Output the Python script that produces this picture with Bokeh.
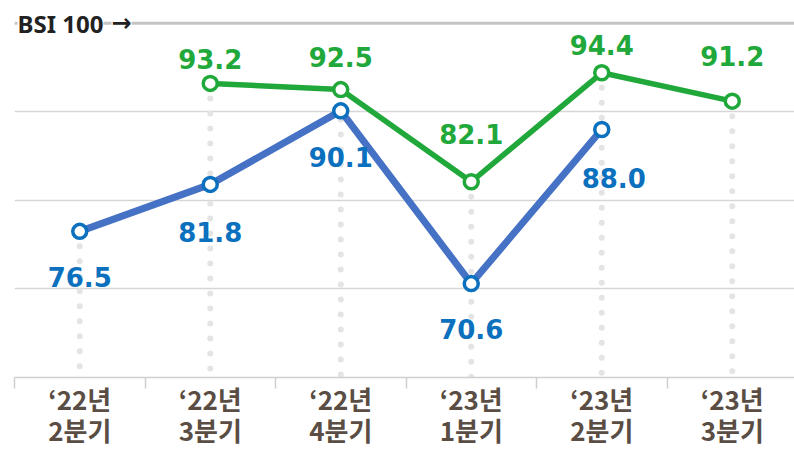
from bokeh.plotting import figure
from bokeh.models import Range1d, FixedTicker, Span, Label
from bokeh.core.properties import value
from bokeh.embed import file_html
from bokeh.resources import INLINE

# ---- data ----
years = ["\u201822년", "\u201822년", "\u201822년", "\u201823년", "\u201823년", "\u201823년"]
quarters = ["2분기", "3분기", "4분기", "1분기", "2분기", "3분기"]
green_idx = [1, 2, 3, 4, 5]
green_vals = [93.2, 92.5, 82.1, 94.4, 91.2]
blue_idx = [0, 1, 2, 3, 4]
blue_vals = [76.5, 81.8, 90.1, 70.6, 88.0]
grid_vals = [70, 80, 90]
ref_val = 100
base_val = 60

# ---- label layout (pixel offsets) ----
green_dy = [-24, -33, -48, -28, -45]
blue_dy = [46, 48, 46, 45, 49]
blue_dx = [0, 0, 0, 0, 12]

GREEN = "#21a83a"
BLUE_LINE = "#4672c6"
BLUE = "#0b70bd"

n = len(years)
p = figure(width=794, height=450, output_backend="svg", toolbar_location=None,
           x_range=Range1d(0, 780 / 130.5), y_range=Range1d(base_val, 102.56),
           min_border_left=14, min_border_right=0, min_border_top=0, min_border_bottom=0)
p.outline_line_color = None
p.background_fill_color = "white"
p.border_fill_color = "white"
p.xgrid.grid_line_color = None
p.yaxis.visible = False
p.ygrid.ticker = FixedTicker(ticks=grid_vals)
p.ygrid.grid_line_color = "#d6d6d6"
p.ygrid.grid_line_width = 1.5

# reference line 100
p.add_layout(Span(location=ref_val, dimension="width", line_color="#c4c4c4", line_width=3))
p.add_layout(Label(x=0, y=ref_val, text="BSI 100", text_font="Noto Sans", text_font_style="bold",
                   text_font_size="24px", text_color="#222222", text_baseline="middle",
                   background_fill_color="white", x_offset=3))
p.add_layout(Label(x=0, y=ref_val, text="\u2192", text_font="DejaVu Sans", text_font_style="bold",
                   text_font_size="24px", text_color="#222222", text_baseline="middle",
                   background_fill_color="white", x_offset=97))

# dotted vertical guides
xs = [i + 0.5 for i in range(n)]
tops = []
for i in range(n):
    vals = [v for j, v in zip(green_idx, green_vals) if j == i] + [v for j, v in zip(blue_idx, blue_vals) if j == i]
    tops.append(max(vals))
p.segment(x0=xs, y0=tops, x1=xs, y1=[base_val] * n, line_color="#e4e4e4", line_width=6,
          line_dash="0 15", line_cap="round")

# lines
gx = [i + 0.5 for i in green_idx]
bx = [i + 0.5 for i in blue_idx]
p.line(bx, blue_vals, line_color=BLUE_LINE, line_width=7, line_join="round")
p.line(gx, green_vals, line_color=GREEN, line_width=5.5, line_join="round")
p.scatter(bx, blue_vals, size=14, fill_color="white", line_color=BLUE, line_width=3.5)
p.scatter(gx, green_vals, size=14, fill_color="white", line_color=GREEN, line_width=3.5)

# value labels
p.text(x=gx, y=green_vals, text=[f"{v:.1f}" for v in green_vals], y_offset=green_dy,
       text_align="center", text_baseline="middle", text_font=value("DejaVu Sans"),
       text_font_style="bold", text_font_size="26px", text_color=GREEN)
p.text(x=bx, y=blue_vals, text=[f"{v:.1f}" for v in blue_vals], y_offset=blue_dy, x_offset=blue_dx,
       text_align="center", text_baseline="middle", text_font=value("DejaVu Sans"),
       text_font_style="bold", text_font_size="26px", text_color=BLUE)

# x axis: labels at band centres, minor ticks at band edges
ax = p.xaxis[0]
ax.ticker = FixedTicker(ticks=xs, minor_ticks=list(range(n + 1)))
ax.major_label_overrides = {x: f"{y}\n{q}" for x, y, q in zip(xs, years, quarters)}
ax.axis_line_color = "#cfcfcf"
ax.axis_line_width = 1.5
ax.major_tick_line_color = None
ax.major_tick_out = 0
ax.major_tick_in = 0
ax.minor_tick_line_color = "#cfcfcf"
ax.minor_tick_line_width = 1.5
ax.minor_tick_out = 11
ax.minor_tick_in = 0
ax.major_label_standoff = -9
ax.major_label_text_font = "Noto Sans CJK KR"
ax.major_label_text_font_style = "bold"
ax.major_label_text_font_size = "26px"
ax.major_label_text_color = "#5a4d44"
ax.major_label_text_line_height = 0.85

open("out.html", "w").write(file_html(p, INLINE))
